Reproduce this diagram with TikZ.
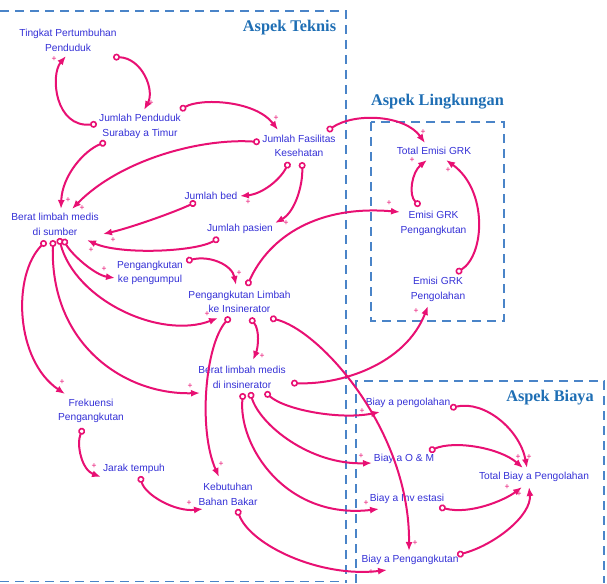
\documentclass[tikz,border=0pt]{standalone}
\usepackage{fontspec}
\setmainfont{Liberation Sans}
\newfontfamily\ttlfont{Liberation Serif}
\usetikzlibrary{arrows.meta}
\definecolor{varblue}{RGB}{52,48,214}
\definecolor{lnkpink}{RGB}{232,16,115}
\definecolor{frameblue}{RGB}{74,132,200}
\definecolor{ttlblue}{RGB}{30,110,180}
\tikzset{
  var/.style={text=varblue, align=center, inner sep=0pt, font=\fontsize{10.2}{14.5}\selectfont},
  lnk/.style={draw=lnkpink, line width=2pt,
    {Circle[open,length=7pt,width=7pt,line width=1.6pt]}-{Latex[length=9pt,width=7pt]}},
  pol/.style={text=lnkpink, inner sep=0pt, font=\fontsize{8.5}{8.5}\selectfont},
  frame/.style={draw=frameblue, line width=1.8pt, dash pattern=on 9pt off 6pt},
  ttl/.style={text=ttlblue, inner sep=0pt, font=\ttlfont\bfseries\fontsize{16.3}{18}\selectfont}
}
\begin{document}
\begin{tikzpicture}[x=1pt,y=-1pt]
\useasboundingbox (0,0) rectangle (607,583);
% frames
\draw[frame] (0,11) -- (346,11) -- (346,583);
\draw[frame] (0,581.5) -- (346,581.5);
\draw[frame] (371,122) rectangle (504,321);
\draw[frame] (356,583) -- (356,381) -- (604,381) -- (604,583);
\node[ttl] (tteknis) at (289.5,28) {Aspek Teknis};
\node[ttl] (tling) at (437.5,102) {Aspek Lingkungan};
\node[ttl] (tbiaya) at (550,398) {Aspek Biaya};
% variables
\node[var] (tpp) at (68,40.5) {Tingkat Pertumbuhan\\Penduduk};
\node[var] (jp) at (140,126.5) {Jumlah Penduduk\\Surabay a Timur};
\node[var] (jfk) at (299,146) {Jumlah Fasilitas\\Kesehatan};
\node[var] (teg) at (434,151) {Total Emisi GRK};
\node[var] (egp) at (433.5,223.5) {Emisi GRK\\Pengangkutan};
\node[var] (ego) at (438,289.5) {Emisi GRK\\Pengolahan};
\node[var] (bls) at (55,224.5) {Berat limbah medis\\di sumber};
\node[var] (bed) at (211,196) {Jumlah bed};
\node[var] (pas) at (240,229) {Jumlah pasien};
\node[var] (pkp) at (150,273) {Pengangkutan\\ke pengumpul};
\node[var] (pli) at (239.5,302) {Pengangkutan Limbah\\ke Insinerator};
\node[var] (bli) at (242,377.5) {Berat limbah medis\\di insinerator};
\node[var] (frk) at (91,411) {Frekuensi\\Pengangkutan};
\node[var] (jrk) at (134,469) {Jarak tempuh};
\node[var] (kbb) at (228,494.5) {Kebutuhan\\Bahan Bakar};
\node[var] (bpo) at (408,403) {Biay a pengolahan};
\node[var] (bom) at (404,459) {Biay a O \& M};
\node[var] (binv) at (407,499) {Biay a Inv estasi};
\node[var] (bpk) at (410,560) {Biay a Pengangkutan};
\node[var] (tbp) at (534,477) {Total Biay a Pengolahan};
% connectors
\draw[lnk] ([shift={(-43,-2.5)}]jp.center) .. controls (55,128) and (50,75) .. ([shift={(-2,15.5)}]tpp.center);
\draw[lnk] ([shift={(45,16.5)}]tpp.center) .. controls (142,58) and (155,90) .. ([shift={(4,-16.5)}]jp.center);
\draw[lnk] ([shift={(40,-16.5)}]jp.center) .. controls (200,98) and (255,100) .. ([shift={(-21,-16)}]jfk.center);
\draw[lnk] ([shift={(-34,15.5)}]jp.center) .. controls (85,150) and (62,175) .. ([shift={(6,-15.5)}]bls.center);
\draw[lnk] ([shift={(-39,-4)}]jfk.center) .. controls (200,138) and (120,160) .. ([shift={(17,-15.5)}]bls.center);
\draw[lnk] ([shift={(28,-15)}]jfk.center) .. controls (355,112) and (405,115) .. ([shift={(-9,-8)}]teg.center);
\draw[lnk] ([shift={(-10,16)}]jfk.center) .. controls (280,180) and (262,194) .. ([shift={(29,0)}]bed.center);
\draw[lnk] ([shift={(3,16)}]jfk.center) .. controls (303,185) and (295,212) .. ([shift={(35,-6)}]pas.center);
\draw[lnk] ([shift={(-15,6)}]bed.center) .. controls (175,212) and (130,228) .. ([shift={(48,9.5)}]bls.center);
\draw[lnk] ([shift={(-21,9)}]pas.center) .. controls (195,252) and (120,255) .. ([shift={(32,15.5)}]bls.center);
\draw[lnk] ([shift={(8,14.5)}]bls.center) .. controls (72,255) and (95,275) .. ([shift={(-35,5)}]pkp.center);
\draw[lnk] ([shift={(4,13.5)}]bls.center) .. controls (75,300) and (160,340) .. ([shift={(-21.5,16)}]pli.center);
\draw[lnk] ([shift={(-2,15.5)}]bls.center) .. controls (50,345) and (125,395) .. ([shift={(-42,15.5)}]bli.center);
\draw[lnk] ([shift={(-9,16.5)}]bls.center) .. controls (12,275) and (15,360) .. ([shift={(-26,-17)}]frk.center);
\draw[lnk] ([shift={(36,-12)}]pkp.center) .. controls (210,255) and (232,265) .. ([shift={(-3.5,-17)}]pli.center);
\draw[lnk] ([shift={(7.5,-16)}]pli.center) .. controls (270,235) and (320,205) .. ([shift={(-33.5,-11.5)}]egp.center);
\draw[lnk] ([shift={(10.5,16)}]pli.center) .. controls (260,330) and (258,348) .. ([shift={(11,-17.5)}]bli.center);
\draw[lnk] ([shift={(-9.5,15)}]pli.center) .. controls (205,345) and (198,430) .. ([shift={(-9,-17.5)}]kbb.center);
\draw[lnk] ([shift={(30.5,16)}]pli.center) .. controls (320,330) and (410,430) .. ([shift={(-1,-9)}]bpk.center);
\draw[lnk] ([shift={(49,5.5)}]bli.center) .. controls (340,385) and (405,365) .. ([shift={(-10,16.5)}]ego.center);
\draw[lnk] ([shift={(23,14.5)}]bli.center) .. controls (285,410) and (340,420) .. ([shift={(-28,9)}]bpo.center);
\draw[lnk] ([shift={(8,14.5)}]bli.center) .. controls (260,425) and (310,465) .. ([shift={(-32,4)}]bom.center);
\draw[lnk] ([shift={(1,15.5)}]bli.center) .. controls (238,445) and (285,520) .. ([shift={(-28,10)}]binv.center);
\draw[lnk] ([shift={(9,14.5)}]kbb.center) .. controls (250,545) and (320,578) .. ([shift={(-23,10)}]bpk.center);
\draw[lnk] ([shift={(-8,17)}]frk.center) .. controls (76,445) and (82,470) .. ([shift={(-33,8)}]jrk.center);
\draw[lnk] ([shift={(6,7)}]jrk.center) .. controls (145,495) and (175,512) .. ([shift={(-25,14.5)}]kbb.center);
\draw[lnk] ([shift={(-13.5,-17.5)}]egp.center) .. controls (408,195) and (412,172) .. ([shift={(-7,9)}]teg.center);
\draw[lnk] ([shift={(18,-16.5)}]ego.center) .. controls (485,255) and (488,190) .. ([shift={(12,9)}]teg.center);
\draw[lnk] ([shift={(42,5)}]bpo.center) .. controls (485,400) and (520,430) .. ([shift={(-7,-9)}]tbp.center);
\draw[lnk] ([shift={(25,-8)}]bom.center) .. controls (455,440) and (500,448) .. ([shift={(-11,-9)}]tbp.center);
\draw[lnk] ([shift={(32,8)}]binv.center) .. controls (470,515) and (505,500) .. ([shift={(-12,10)}]tbp.center);
\draw[lnk] ([shift={(47,-5)}]bpk.center) .. controls (495,545) and (532,515) .. ([shift={(-5,10)}]tbp.center);
% polarities
\node[pol] (p1) at (54,59) {+};
\node[pol] (p2) at (151,103) {+};
\node[pol] (p3) at (276,118) {+};
\node[pol] (p4) at (68,200) {+};
\node[pol] (p5) at (82,208) {+};
\node[pol] (p6) at (423,132) {+};
\node[pol] (p7) at (248,202) {+};
\node[pol] (p8) at (286,223) {+};
\node[pol] (p9) at (113,240) {+};
\node[pol] (p10) at (91,250) {+};
\node[pol] (p11) at (104,269) {+};
\node[pol] (p12) at (207,314) {+};
\node[pol] (p13) at (190,386) {+};
\node[pol] (p14) at (62,382) {+};
\node[pol] (p15) at (239,273) {+};
\node[pol] (p16) at (389,203) {+};
\node[pol] (p17) at (262,356) {+};
\node[pol] (p18) at (221,464) {+};
\node[pol] (p19) at (415,543) {+};
\node[pol] (p20) at (416,311) {+};
\node[pol] (p21) at (362,411) {+};
\node[pol] (p22) at (361,456) {+};
\node[pol] (p23) at (366,503) {+};
\node[pol] (p24) at (371,572) {+};
\node[pol] (p25) at (94,466) {+};
\node[pol] (p26) at (189,503) {+};
\node[pol] (p27) at (412,160) {+};
\node[pol] (p28) at (448,170) {+};
\node[pol] (p29) at (529,457) {+};
\node[pol] (p30) at (518,457) {+};
\node[pol] (p31) at (507,487) {+};
\node[pol] (p32) at (519,494) {+};
\end{tikzpicture}
\end{document}
